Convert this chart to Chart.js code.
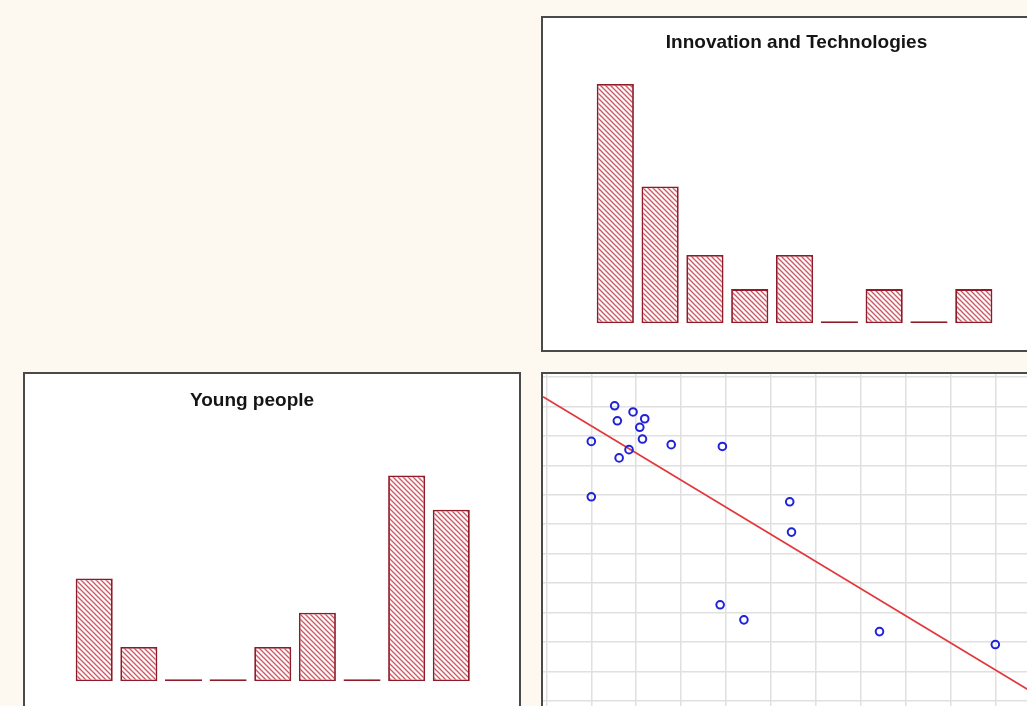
<!DOCTYPE html>
<html>
<head>
<meta charset="utf-8">
<script src="https://cdn.jsdelivr.net/npm/chart.js@4.4.1/dist/chart.umd.min.js"></script>
<style>
  html, body { margin:0; padding:0; width:1027px; height:706px; overflow:hidden; background:#fdf9f0; }
  .panel { position:absolute; background:#ffffff; border:2px solid #4a4a4a; box-sizing:border-box; }
  .panel canvas { display:block; }
  #p1 { left:541px; top:16px;  width:500px; height:336px; }
  #p2 { left:23px;  top:372px; width:498px; height:352px; }
  #p3 { left:541px; top:372px; width:500px; height:352px; }
</style>
</head>
<body>
<div class="panel" id="p1"><canvas id="c1" width="496" height="332"></canvas></div>
<div class="panel" id="p2"><canvas id="c2" width="494" height="348"></canvas></div>
<div class="panel" id="p3"><canvas id="c3" width="496" height="348"></canvas></div>
<script>
// ---------- data ----------
const histBins = ['1', '2', '3', '4', '5', '6', '7', '8', '9'];
const innovationTitle = 'Innovation and Technologies';
const innovationCounts = [7, 4, 2, 1, 2, 0, 1, 0, 1];
const youngTitle = 'Young people';
const youngCounts = [3, 1, 0, 0, 1, 2, 0, 6, 5];

const scatterX = [1.52, 1.93, 1.58, 2.19, 2.08, 2.14, 1.00, 1.84, 1.62, 2.78, 3.92, 1.00, 5.42, 5.46, 3.87, 4.40, 7.42, 10.00];
const scatterY = [10.02, 9.81, 9.51, 9.58, 9.29, 8.89, 8.81, 8.53, 8.25, 8.70, 8.64, 6.93, 6.76, 5.73, 3.26, 2.75, 2.35, 1.91];
const regIntercept = 10.26;
const regSlope = -0.921;
const xGridTicks = [0, 1, 2, 3, 4, 5, 6, 7, 8, 9, 10];
const yGridTicks = [0, 1, 2, 3, 4, 5, 6, 7, 8, 9, 10, 11];
const histMax = 7;

// ---------- hatch pattern ----------
function makeHatch() {
  const n = 5;
  const t = document.createElement('canvas');
  t.width = n; t.height = n;
  const g = t.getContext('2d');
  g.fillStyle = '#fffafa';
  g.fillRect(0, 0, n, n);
  g.strokeStyle = '#c85a68';
  g.lineWidth = 1.3;
  g.beginPath();
  g.moveTo(-1, -1); g.lineTo(n + 1, n + 1);
  g.moveTo(-1, n - 1); g.lineTo(1, n + 1);
  g.moveTo(n - 1, -1); g.lineTo(n + 1, 1);
  g.stroke();
  return g.createPattern(t, 'repeat');
}
const hatch = makeHatch();

const titleFont = { family: "'Liberation Sans', Arial, sans-serif", size: 19, weight: 'bold' };

function histChart(id, title, counts, geo) {
  return new Chart(document.getElementById(id), {
    type: 'bar',
    data: {
      labels: histBins,
      datasets: [{
        data: counts,
        backgroundColor: hatch,
        borderColor: '#8e1b28',
        borderWidth: 1.8,
        borderSkipped: false,
        barPercentage: 0.83,
        categoryPercentage: 1,
        minBarLength: 2
      }]
    },
    options: {
      responsive: false,
      animation: false,
      events: [],
      layout: { autoPadding: false, padding: { left: geo.padL, right: geo.padR, top: 0, bottom: geo.padB } },
      plugins: {
        legend: { display: false },
        tooltip: { enabled: false },
        title: {
          display: true, text: title, color: '#151515', font: titleFont,
          padding: { top: geo.tTop, bottom: geo.tBot }
        }
      },
      scales: {
        x: { display: false, offset: true },
        y: {
          min: 0, max: histMax, position: 'left',
          ticks: { display: false }, grid: { display: false }, border: { display: false },
          afterFit: s => { s.width = geo.axL; }
        },
        y2: {
          type: 'linear', position: 'right',
          ticks: { display: false }, grid: { display: false }, border: { display: false },
          afterFit: s => { s.width = geo.axR; }
        }
      }
    }
  });
}

histChart('c1', innovationTitle, innovationCounts,
  { padL: 11, padR: 0, padB: 26.7, axL: 38.9, axR: 42.8, tTop: 13.0, tBot: 30.2 });
histChart('c2', youngTitle, youngCounts,
  { padL: 0, padR: 40, padB: 40.7, axL: 46.9, axR: 5.4, tTop: 15.0, tBot: 29.4 });

// ---------- scatter ----------
const xMin = -0.076, xMax = 10.973, yMin = -0.72, yMax = 11.10;
const points = scatterX.map((x, i) => ({ x: x, y: scatterY[i] }));
const regLine = [xMin, xMax].map(x => ({ x: x, y: regIntercept + regSlope * x }));

new Chart(document.getElementById('c3'), {
  type: 'scatter',
  data: {
    datasets: [
      {
        type: 'scatter', data: points, order: 0,
        pointStyle: 'circle', pointRadius: 3.8, pointBorderWidth: 2,
        borderColor: '#1f22d8', backgroundColor: 'rgba(0,0,0,0)'
      },
      {
        type: 'line', data: regLine, order: 1,
        borderColor: '#e2383c', borderWidth: 1.8, pointRadius: 0, fill: false
      }
    ]
  },
  options: {
    responsive: false,
    animation: false,
    events: [],
    layout: { autoPadding: false, padding: 0 },
    plugins: { legend: { display: false }, tooltip: { enabled: false } },
    scales: {
      x: {
        type: 'linear', min: xMin, max: xMax,
        ticks: { display: false },
        grid: { color: '#e0e0e0', lineWidth: 1.5, drawTicks: false },
        border: { display: false },
        afterBuildTicks: s => { s.ticks = xGridTicks.map(v => ({ value: v })); },
        afterFit: s => { s.height = 0; }
      },
      y: {
        type: 'linear', min: yMin, max: yMax,
        ticks: { display: false },
        grid: { color: '#e0e0e0', lineWidth: 1.5, drawTicks: false },
        border: { display: false },
        afterBuildTicks: s => { s.ticks = yGridTicks.map(v => ({ value: v })); },
        afterFit: s => { s.width = 0; }
      }
    }
  }
});
</script>
</body>
</html>
